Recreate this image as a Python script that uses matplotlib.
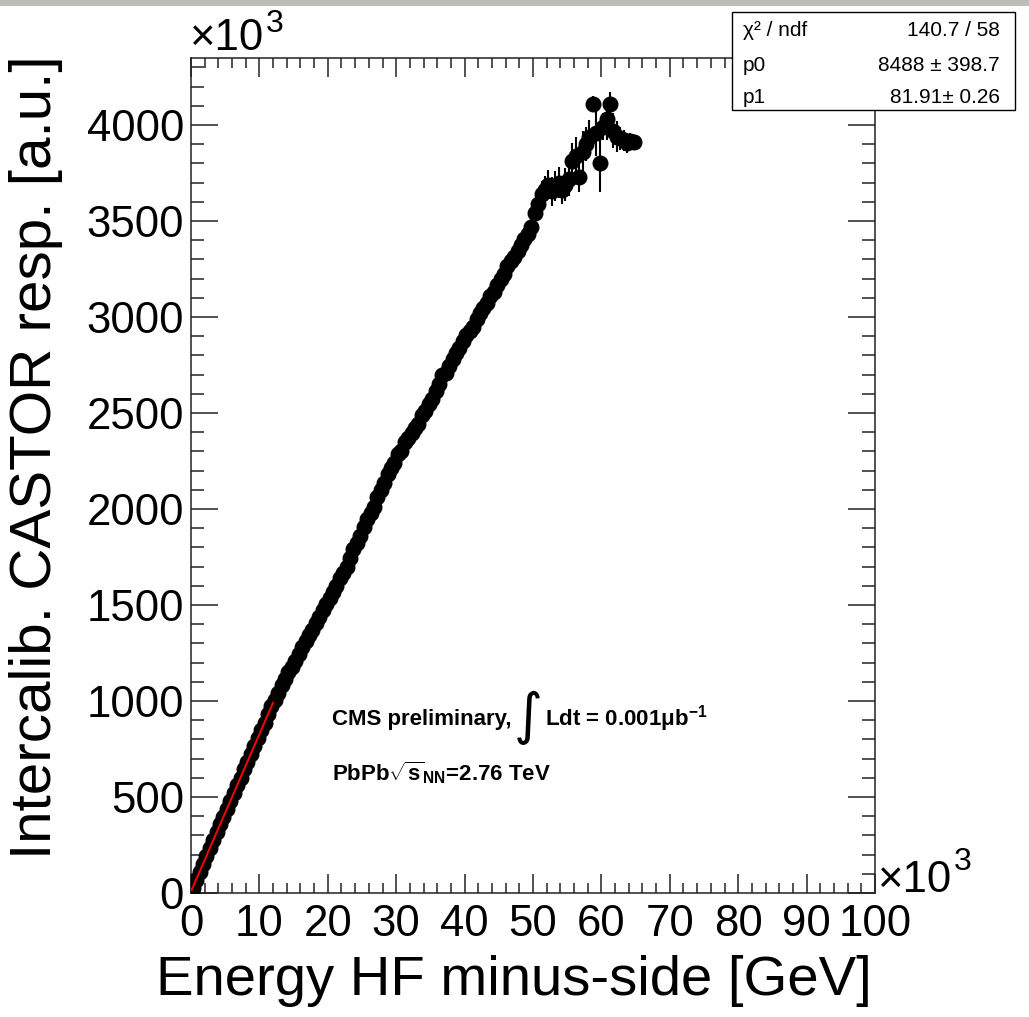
import matplotlib
matplotlib.use('Agg')
import matplotlib.pyplot as plt
from matplotlib.patches import Rectangle
from matplotlib.ticker import MultipleLocator

plt.rcParams['font.family'] = ['Liberation Sans', 'DejaVu Sans']
plt.rcParams['mathtext.fontset'] = 'custom'
plt.rcParams['mathtext.rm'] = 'Liberation Sans:bold'
plt.rcParams['mathtext.it'] = 'Liberation Sans:bold'
plt.rcParams['mathtext.bf'] = 'Liberation Sans:bold'

W, H = 1029, 1017

# profile points, both axes in units of 10^3
energy = [0.25, 0.75, 1.25, 1.75, 2.25, 2.75, 3.25, 3.75, 4.25, 4.75, 5.25, 5.75,
          6.25, 6.75, 7.25, 7.75, 8.25, 8.75, 9.25, 9.75, 10.25, 10.75, 11.25, 11.75,
          12.25, 12.75, 13.25, 13.75, 14.25, 14.75, 15.25, 15.75, 16.25, 16.75, 17.25, 17.75,
          18.25, 18.75, 19.25, 19.75, 20.25, 20.75, 21.25, 21.75, 22.25, 22.75, 23.25, 23.75,
          24.25, 24.75, 25.25, 25.75, 26.25, 26.75, 27.25, 27.75, 28.25, 28.75, 29.25, 29.75,
          30.25, 30.75, 31.25, 31.75, 32.25, 32.75, 33.25, 33.75, 34.25, 34.75, 35.25, 35.75,
          36.25, 36.75, 37.25, 37.75, 38.25, 38.75, 39.25, 39.75, 40.25, 40.75, 41.25, 41.75,
          42.25, 42.75, 43.25, 43.75, 44.25, 44.75, 45.25, 45.75, 46.25, 46.75, 47.25, 47.75,
          48.25, 48.75, 49.25, 49.75,
          50.25, 50.75, 51.25, 51.75, 52.25, 52.75, 53.25, 53.75, 54.25, 54.75,
          55.25, 55.75, 56.25, 56.75, 57.25, 57.75, 58.25, 58.75, 59.25, 59.75,
          60.25, 60.75, 61.25, 61.75, 62.25, 62.75, 63.25, 63.75, 64.25, 64.75]
resp = [25, 66, 110, 150, 195, 232, 275, 318, 360, 395, 440, 478,
        520, 565, 600, 645, 682, 725, 768, 805, 850, 888, 930, 972,
        1005, 1040, 1085, 1115, 1150, 1175, 1210, 1245, 1280, 1310, 1345, 1370,
        1405, 1440, 1475, 1505, 1535, 1570, 1600, 1640, 1665, 1700, 1745, 1790,
        1825, 1860, 1905, 1950, 1980, 2010, 2065, 2100, 2135, 2180, 2215, 2240,
        2285, 2300, 2350, 2370, 2395, 2420, 2445, 2490, 2510, 2545, 2575, 2615,
        2650, 2700, 2710, 2745, 2780, 2815, 2840, 2875, 2905, 2925, 2950, 2990,
        3020, 3045, 3075, 3110, 3130, 3165, 3200, 3225, 3265, 3290, 3310, 3345,
        3375, 3405, 3430, 3470,
        3540, 3590, 3640, 3660, 3690, 3655, 3680, 3700, 3660, 3690,
        3720, 3810, 3840, 3730, 3860, 3900, 3940, 4110, 3960, 3800,
        3990, 4030, 4110, 3970, 3940, 3930, 3920, 3905, 3915, 3910]
resp_err = [6, 6, 7, 7, 7, 8, 8, 8, 8, 9, 9, 9,
            9, 10, 10, 10, 10, 10, 11, 11, 11, 11, 12, 12,
            12, 12, 13, 13, 13, 14, 14, 14, 15, 15, 15, 16,
            16, 16, 17, 17, 18, 18, 18, 19, 19, 20, 20, 20,
            21, 21, 22, 22, 22, 23, 23, 24, 24, 25, 25, 26,
            26, 27, 27, 28, 28, 29, 30, 30, 31, 32, 32, 33,
            34, 34, 35, 36, 37, 38, 38, 39, 40, 41, 42, 43,
            44, 45, 46, 47, 48, 49, 50, 52, 53, 54, 55, 56,
            58, 60, 62, 64,
            66, 68, 70, 72, 74, 76, 78, 80, 70, 85,
            90, 95, 100, 80, 110, 90, 85, 40, 120, 150,
            70, 110, 60, 90, 80, 60, 55, 50, 45, 40]

# linear fit result (raw units) and its range
p0, p0_err = 8488, 398.7
p1, p1_err = 81.91, 0.26
chi2, ndf = 140.7, 58
fit_range = [0.1, 12.0]

xticks = [0, 10, 20, 30, 40, 50, 60, 70, 80, 90, 100]
yticks = [0, 500, 1000, 1500, 2000, 2500, 3000, 3500, 4000]

fig = plt.figure(figsize=(W / 100, H / 100), dpi=100)
fig.patches.append(Rectangle((0, 1 - 6 / H), 1, 6 / H, transform=fig.transFigure,
                             facecolor='#bdbdb9', edgecolor='none', zorder=0))
ax = fig.add_axes([191 / W, 1 - 893 / H, (875 - 191) / W, (893 - 58) / H])

ax.errorbar(energy, resp, yerr=resp_err, fmt='o', color='black', ms=10.5,
            elinewidth=1.5, capsize=0, zorder=3)
fit_y = [p0 / 1000 + p1 * x for x in fit_range]
ax.plot(fit_range, fit_y, color='red', lw=1.4, zorder=5)

ax.set_xlim(0, 100)
ax.set_ylim(0, 4349)
ax.set_xticks(xticks)
ax.set_xticklabels([str(v) for v in xticks])
ax.set_yticks(yticks)
ax.set_yticklabels([str(v) for v in yticks])
ax.xaxis.set_minor_locator(MultipleLocator(2))
ax.yaxis.set_minor_locator(MultipleLocator(100))
ax.tick_params(which='both', direction='in', top=True, right=True,
               labelsize=31.5, width=1.1, color='#222222')
ax.tick_params(axis='x', which='major', length=14, pad=8)
ax.tick_params(axis='x', which='minor', length=7)
ax.tick_params(axis='y', which='major', length=19.5, pad=5)
ax.tick_params(axis='y', which='minor', length=9.5)
for s in ax.spines.values():
    s.set_linewidth(1.1)
    s.set_color('#222222')

# axis titles, ROOT style (aligned to the axis end)
fig.text(872 / W, 1 - 995 / H, 'Energy HF minus-side [GeV]', fontsize=40.5,
         ha='right', va='baseline')
fig.text(51 / W, 1 - 55 / H, 'Intercalib. CASTOR resp. [a.u.]', fontsize=42,
         rotation=90, ha='right', va='baseline', rotation_mode='anchor')

# x10^3 multipliers
t = fig.text(190 / W, 1 - 50 / H, '\u00d710', fontsize=31.5, va='baseline')
ax.annotate('3', xy=(1, H - 32), xycoords=(t, 'figure pixels'), xytext=(1, 0),
            textcoords='offset points', fontsize=23, va='baseline', annotation_clip=False)
t = fig.text(878 / W, 1 - 892 / H, '\u00d710', fontsize=31.5, va='baseline')
ax.annotate('3', xy=(1, H - 870), xycoords=(t, 'figure pixels'), xytext=(1, 0),
            textcoords='offset points', fontsize=23, va='baseline', annotation_clip=False)

# stats box
fig.patches.append(Rectangle((732 / W, 1 - 110 / H), 283 / W, 98 / H,
                             transform=fig.transFigure, facecolor='white',
                             edgecolor='black', lw=1.0, zorder=10))
rows_l = ['\u03c7\u00b2 / ndf', 'p0', 'p1']
rows_r = ['%.1f / %d' % (chi2, ndf), '%d \u00b1 %.1f' % (p0, p0_err),
          '%.2f\u00b1 %.2f' % (p1, p1_err)]
for i, base in enumerate([36, 71, 103]):
    fig.text(743 / W, 1 - base / H, rows_l[i], fontsize=15, va='baseline', zorder=11)
    fig.text(1000 / W, 1 - base / H, rows_r[i], fontsize=15, va='baseline',
             ha='right', zorder=11)

# CMS labels
t1 = fig.text(332 / W, 1 - 725 / H, 'CMS preliminary,', fontsize=16,
              fontweight='bold', va='baseline')
t2 = ax.annotate('\u222b', xy=(1, H - 718), xycoords=(t1, 'figure pixels'),
                 xytext=(2, 0), textcoords='offset points', fontsize=40,
                 family='DejaVu Sans', va='center', annotation_clip=False)
ax.annotate(r'Ldt = 0.001$\mu$b$^{-1}$', xy=(1, H - 725), xycoords=(t2, 'figure pixels'),
            xytext=(1, 0), textcoords='offset points', fontsize=16,
            fontweight='bold', va='baseline', annotation_clip=False)
fig.text(332 / W, 1 - 780 / H, r'PbPb$\sqrt{s}_{NN}$=2.76 TeV', fontsize=16,
         fontweight='bold', va='baseline')

fig.savefig('out.png', dpi=100)
